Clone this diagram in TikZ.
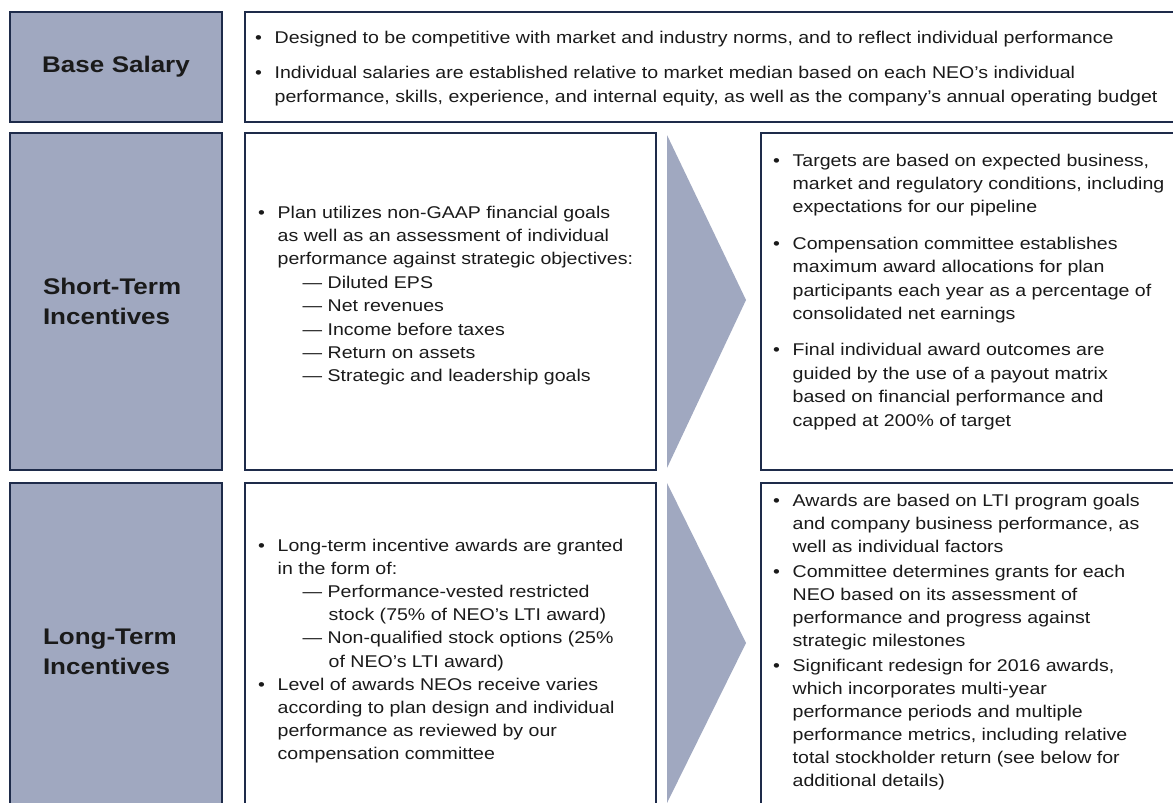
\documentclass[tikz,border=0pt]{standalone}
\usepackage{fontspec}
\setmainfont[FakeStretch=1.15]{Liberation Sans}
\definecolor{navy}{HTML}{1E2B4A}
\definecolor{slate}{HTML}{A0A8C0}
\definecolor{ink}{HTML}{1A1A1A}
\newcommand\mybul{\makebox[19.5pt][l]{\textbullet}}
\newcommand\myind{\hspace*{19.5pt}}
\newcommand\mysub{\hspace*{44.5pt}—\ }
\newcommand\mysubind{\hspace*{70.5pt}}
\tikzset{
  box/.style={draw=navy, line width=2.7pt, rectangle, inner sep=0pt},
  labelbox/.style={box, fill=slate, text=ink, align=left, text width=146pt,
    font=\fontsize{22.6}{30}\selectfont\bfseries},
  textbox/.style={box, fill=white},
  body/.style={anchor=north west, inner sep=0pt, align=left, text=ink,
    font=\fontsize{17}{23.4}\selectfont},
  chevron/.style={fill=slate, draw=none}
}
\begin{document}
\begin{tikzpicture}[x=1pt,y=-1pt]
\useasboundingbox (0,0) rectangle (1173,803);
\clip (0,0) rectangle (1173,803);
\fill[white] (0,0) rectangle (1173,803);

% row 1
\node[labelbox, text width=180pt, align=center, minimum width=212pt, minimum height=110pt] (lab1) at (116,67) {Base Salary};
\node[textbox, minimum width=935pt, minimum height=110pt] (r1) at (712.5,67) {};
\node[body, font=\fontsize{17}{24.5}\selectfont] (t1) at (255,30.5) {%
\mybul Designed to be competitive with market and industry norms, and to reflect individual performance\\[10.5pt]
\mybul Individual salaries are established relative to market median based on each NEO’s individual\\
\myind performance, skills, experience, and internal equity, as well as the company’s annual operating budget};

% row 2
\node[labelbox, minimum width=212pt, minimum height=337pt] (lab2) at (116,301.5) {Short-Term\\Incentives};
\node[textbox, minimum width=411pt, minimum height=337pt] (m2) at (450.5,301.5) {};
\node[textbox, minimum width=419pt, minimum height=337pt] (r2) at (970.5,301.5) {};
\fill[chevron] (667,135) -- (746,300) -- (667,468) -- cycle;
\node[body] (t2) at (258,205.5) {%
\mybul Plan utilizes non-GAAP financial goals\\
\myind as well as an assessment of individual\\
\myind performance against strategic objectives:\\
\mysub Diluted EPS\\
\mysub Net revenues\\
\mysub Income before taxes\\
\mysub Return on assets\\
\mysub Strategic and leadership goals};
\node[body] (t3) at (773,153.5) {%
\mybul Targets are based on expected business,\\
\myind market and regulatory conditions, including\\
\myind expectations for our pipeline\\[13pt]
\mybul Compensation committee establishes\\
\myind maximum award allocations for plan\\
\myind participants each year as a percentage of\\
\myind consolidated net earnings\\[13pt]
\mybul Final individual award outcomes are\\
\myind guided by the use of a payout matrix\\
\myind based on financial performance and\\
\myind capped at 200\% of target};

% row 3
\node[labelbox, minimum width=212pt, minimum height=337pt] (lab3) at (116,651.5) {Long-Term\\Incentives};
\node[textbox, minimum width=411pt, minimum height=337pt] (m3) at (450.5,651.5) {};
\node[textbox, minimum width=419pt, minimum height=337pt] (r3) at (970.5,651.5) {};
\fill[chevron] (667,483) -- (746,643) -- (667,803) -- cycle;
\node[body, font=\fontsize{17}{23.2}\selectfont] (t4) at (258,538.5) {%
\mybul Long-term incentive awards are granted\\
\myind in the form of:\\
\mysub Performance-vested restricted\\
\mysubind stock (75\% of NEO’s LTI award)\\
\mysub Non-qualified stock options (25\%\\
\mysubind of NEO’s LTI award)\\
\mybul Level of awards NEOs receive varies\\
\myind according to plan design and individual\\
\myind performance as reviewed by our\\
\myind compensation committee};
\node[body, font=\fontsize{17}{23}\selectfont] (t5) at (773,493.5) {%
\mybul Awards are based on LTI program goals\\
\myind and company business performance, as\\
\myind well as individual factors\\[2pt]
\mybul Committee determines grants for each\\
\myind NEO based on its assessment of\\
\myind performance and progress against\\
\myind strategic milestones\\[2pt]
\mybul Significant redesign for 2016 awards,\\
\myind which incorporates multi-year\\
\myind performance periods and multiple\\
\myind performance metrics, including relative\\
\myind total stockholder return (see below for\\
\myind additional details)};
\end{tikzpicture}
\end{document}
